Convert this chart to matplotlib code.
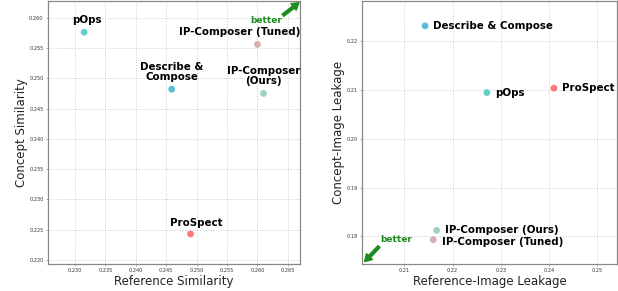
import matplotlib
matplotlib.use("Agg")
import matplotlib.pyplot as plt
from matplotlib.ticker import FormatStrFormatter

methods = ["pOps", "Describe & Compose", "IP-Composer (Tuned)", "IP-Composer (Ours)", "ProSpect"]
colors = ["#4ECDC4", "#45B7D1", "#D4A5A5", "#96CEB4", "#FF6B6B"]

# Left panel
ref_sim = [0.2315, 0.2459, 0.2600, 0.2610, 0.2490]
concept_sim = [0.2576, 0.2482, 0.2556, 0.2475, 0.2243]
left_labels = ["pOps", "Describe &\nCompose", "IP-Composer (Tuned)", "IP-Composer\n(Ours)", "ProSpect"]

# Right panel
ref_leak = [0.2271, 0.2143, 0.2160, 0.2167, 0.2410]
concept_leak = [0.2095, 0.2232, 0.1793, 0.1812, 0.2104]

left_xticks = [0.230, 0.235, 0.240, 0.245, 0.250, 0.255, 0.260, 0.265]
left_yticks = [0.220, 0.225, 0.230, 0.235, 0.240, 0.245, 0.250, 0.255, 0.260]
right_xticks = [0.21, 0.22, 0.23, 0.24, 0.25]
right_yticks = [0.18, 0.19, 0.20, 0.21, 0.22]

fig = plt.figure(figsize=(6.18, 2.91), dpi=100)
ax1 = fig.add_axes([0.0772, 0.0928, 0.4082, 0.9038])
ax2 = fig.add_axes([0.5862, 0.0928, 0.4117, 0.9038])

green = "#1E8C1E"
lab_fs = 7.4

def style(ax):
    ax.grid(True, linestyle=":", color="#cccccc", linewidth=0.7)
    ax.set_axisbelow(True)
    for s in ax.spines.values():
        s.set_color("#888888")
        s.set_linewidth(0.9)
    ax.tick_params(labelsize=3.6, length=1.5, width=0.5, pad=1.5, color="#888888", labelcolor="#333333")

# ---- left
style(ax1)
for x, y, c in zip(ref_sim, concept_sim, colors):
    ax1.scatter(x, y, s=24, color=c, alpha=0.9, edgecolors="none", zorder=3)
left_offsets = [(2, 5), (0, 5), (-13, 5), (0, 5), (4, 4)]
for x, y, t, off in zip(ref_sim, concept_sim, left_labels, left_offsets):
    ax1.annotate(t, (x, y), xytext=off, textcoords="offset points", ha="center", va="bottom",
                 fontsize=lab_fs, fontweight="bold", linespacing=1.0)
ax1.set_xlim(0.2255, 0.2670)
ax1.set_ylim(0.21934, 0.26276)
ax1.set_xticks(left_xticks)
ax1.set_yticks(left_yticks)
ax1.xaxis.set_major_formatter(FormatStrFormatter("%.3f"))
ax1.yaxis.set_major_formatter(FormatStrFormatter("%.3f"))
ax1.set_xlabel("Reference Similarity", fontsize=8.5, labelpad=1, color="#222222")
ax1.set_ylabel("Concept Similarity", fontsize=8.5, labelpad=1, color="#222222")
ax1.annotate("", xy=(0.26684, 0.26248), xytext=(0.2642, 0.2604),
             arrowprops=dict(facecolor=green, edgecolor=green, width=2, headwidth=6, headlength=5),
             annotation_clip=False)
ax1.text(0.26136, 0.2596, "better", color=green, fontsize=6.5, fontweight="bold", ha="center", va="center")

# ---- right
style(ax2)
for x, y, c in zip(ref_leak, concept_leak, colors):
    ax2.scatter(x, y, s=24, color=c, alpha=0.9, edgecolors="none", zorder=3)
right_offsets = [(6, 0), (6, 0), (6, -2), (6, 0), (6, 0)]
for x, y, t, off in zip(ref_leak, concept_leak, methods, right_offsets):
    ax2.annotate(t, (x, y), xytext=off, textcoords="offset points", ha="left", va="center",
                 fontsize=lab_fs, fontweight="bold")
ax2.set_xlim(0.2013, 0.2540)
ax2.set_ylim(0.1743, 0.2283)
ax2.set_xticks(right_xticks)
ax2.set_yticks(right_yticks)
ax2.xaxis.set_major_formatter(FormatStrFormatter("%.2f"))
ax2.yaxis.set_major_formatter(FormatStrFormatter("%.2f"))
ax2.set_xlabel("Reference-Image Leakage", fontsize=8.5, labelpad=1, color="#222222")
ax2.set_ylabel("Concept-Image Leakage", fontsize=8.5, labelpad=1, color="#222222")
ax2.annotate("", xy=(0.20179, 0.17479), xytext=(0.20476, 0.17787),
             arrowprops=dict(facecolor=green, edgecolor=green, width=2, headwidth=6, headlength=5),
             annotation_clip=False)
ax2.text(0.20842, 0.17938, "better", color=green, fontsize=6.5, fontweight="bold", ha="center", va="center")

fig.savefig("out.png", dpi=100)
